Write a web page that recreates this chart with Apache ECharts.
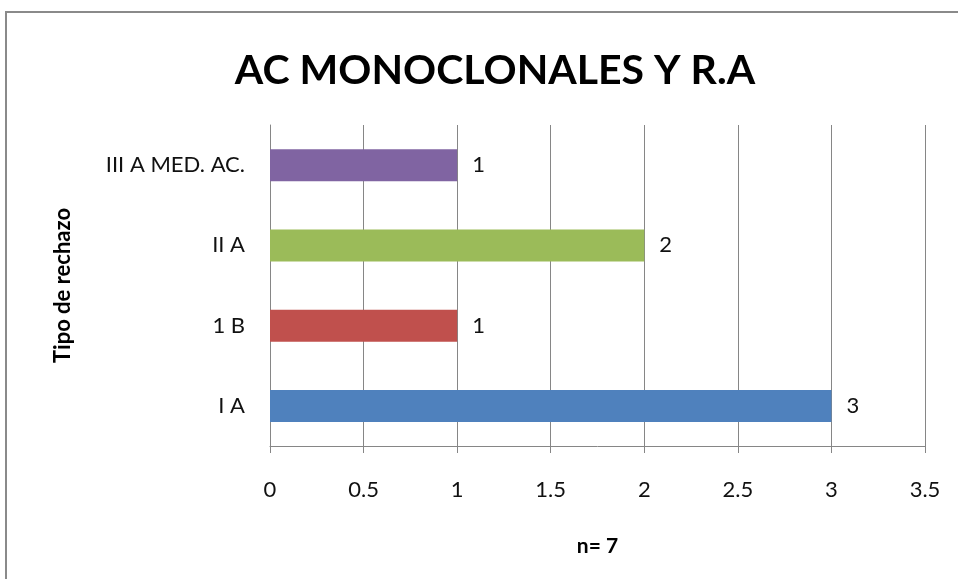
<!DOCTYPE html>
<html><head><meta charset="utf-8">
<script src="https://cdn.jsdelivr.net/npm/echarts@6/dist/echarts.min.js"></script>
<style>html,body{margin:0;padding:0;background:#fff}#c{width:958px;height:579px}</style>
</head><body><div id="c"></div>
<script>
var categories = ['I A', '1 B', 'II A', 'III A MED. AC.'];
var values = [3, 1, 2, 1];
var barColors = ['#4F81BD', '#C0504D', '#9BBB59', '#8064A2'];
var titleText = 'AC MONOCLONALES Y R.A';
var xName = 'n= 7';
var yName = 'Tipo de rechazo';
var FONT = "Lato, 'Liberation Sans', sans-serif";

var chart = echarts.init(document.getElementById('c'), null, {renderer: 'canvas'});
chart.setOption({
  animation: false,
  backgroundColor: '#fff',
  graphic: [{
    type: 'rect', shape: {x: 6, y: 12, width: 1200, height: 1000},
    style: {fill: 'none', stroke: '#8a8a8a', lineWidth: 2}, z: 100
  }],
  title: {
    text: titleText, left: 490, top: 45, textAlign: 'center',
    textStyle: {fontFamily: FONT, fontWeight: 'bold', fontSize: 41, color: '#000'}
  },
  grid: {left: 270, right: 33, top: 125, bottom: 133, containLabel: false},
  xAxis: {
    type: 'value', min: 0, max: 3.5, interval: 0.5,
    name: xName, nameLocation: 'middle', nameGap: 90,
    nameTextStyle: {fontFamily: FONT, fontWeight: 'bold', fontSize: 21, color: '#000'},
    axisLine: {show: true, lineStyle: {color: '#868686', width: 1}},
    axisTick: {show: true, length: 7, lineStyle: {color: '#868686'}},
    axisLabel: {fontFamily: FONT, fontSize: 22, color: '#111', margin: 33},
    splitLine: {show: true, lineStyle: {color: '#868686', width: 1}}
  },
  yAxis: {
    type: 'category', data: categories,
    name: yName, nameLocation: 'middle', nameGap: 196,
    nameTextStyle: {fontFamily: FONT, fontWeight: 'bold', fontSize: 22, color: '#000'},
    axisLine: {show: true, lineStyle: {color: '#868686', width: 1}},
    axisTick: {show: false},
    axisLabel: {fontFamily: FONT, fontSize: 22, color: '#111', margin: 25}
  },
  series: [{
    type: 'bar', barWidth: 32,
    data: values.map(function (v, i) { return {value: v, itemStyle: {color: barColors[i]}}; }),
    label: {show: true, position: 'right', distance: 15, fontFamily: FONT, fontSize: 22, color: '#111'}
  }]
});
</script></body></html>
